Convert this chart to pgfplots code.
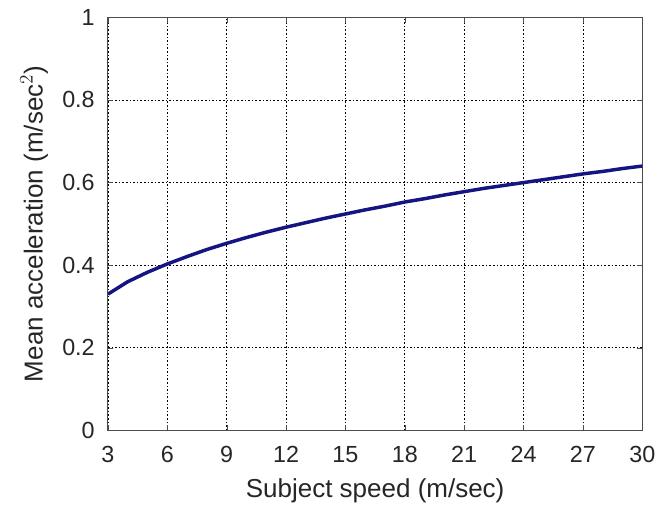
\documentclass[border=0pt]{standalone}
\usepackage{pgfplots}
\pgfplotsset{compat=1.18}
\usepackage{fontspec}
\setmainfont{Liberation Sans}
\begin{document}
\begin{tikzpicture}
\fill[white] (-81pt,-55.5pt) rectangle (415pt,323pt);
\begin{axis}[
  scale only axis, width=401pt, height=310pt,
  at={(0,0)}, anchor=south west,
  xmin=3, xmax=30, ymin=0, ymax=1,
  xtick={3,6,...,30}, ytick={0,0.2,...,1},
  yticklabels={0,0.2,0.4,0.6,0.8,1},
  grid=major,
  major grid style={black, dash pattern=on 1.2pt off 1.5pt, line width=0.6pt},
  axis line style={black!70, line width=0.8pt},
  tick style={black!70},
  tick align=inside,
  major tick length=4pt,
  /pgf/number format/assume math mode=true,
  tick label style={font=\fontsize{17.5}{20}\selectfont, text=black!85},
  label style={font=\fontsize{19.5}{22}\selectfont, text=black!85},
  xticklabel style={anchor=base, inner sep=0pt, yshift=-24pt},
  yticklabel style={anchor=east, inner sep=0pt, xshift=-9.75pt},
  xlabel={Subject speed (m/sec)},
  ylabel={Mean acceleration (m/sec$^2$)},
  xlabel style={at={(axis description cs:0.5,0)}, anchor=base, inner sep=0pt, yshift=-50.5pt},
  ylabel style={at={([xshift=-49pt]axis description cs:0,0.5)}, anchor=base, inner sep=0pt},
]
\addplot[color={rgb,255:red,20;green,20;blue,130}, line width=2.6pt] coordinates {
(3,0.330)(4,0.360)(5,0.383)(6,0.403)(7,0.421)(8,0.438)(9,0.453)(10,0.467)
(11,0.480)(12,0.492)(13,0.503)(14,0.514)(15,0.524)(16,0.534)(17,0.543)
(18,0.553)(19,0.561)(20,0.570)(21,0.578)(22,0.586)(23,0.593)(24,0.600)
(25,0.607)(26,0.614)(27,0.621)(28,0.627)(29,0.634)(30,0.640)
};
\end{axis}
\end{tikzpicture}
\end{document}
